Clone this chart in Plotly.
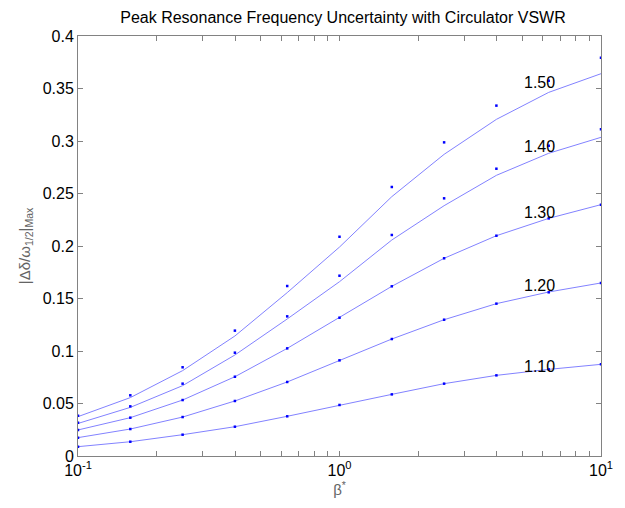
import math
import plotly.graph_objects as go

# ---- data ----
beta = [0.1, 0.1585, 0.2512, 0.3981, 0.631, 1.0, 1.585, 2.512, 3.981, 6.31, 10.0]
vswr_labels = ["1.10", "1.20", "1.30", "1.40", "1.50"]

line_110 = [0.0089, 0.0136, 0.0203, 0.0279, 0.0378, 0.0486, 0.0587, 0.0689, 0.0768, 0.0825, 0.0873]
line_120 = [0.0175, 0.0257, 0.0371, 0.0524, 0.0705, 0.0911, 0.1114, 0.1298, 0.1451, 0.1562, 0.1648]
line_130 = [0.0248, 0.0365, 0.0533, 0.0755, 0.1025, 0.1317, 0.1616, 0.1883, 0.2098, 0.2263, 0.2394]
line_140 = [0.0310, 0.0463, 0.0670, 0.0962, 0.1305, 0.1660, 0.2057, 0.2384, 0.2673, 0.2883, 0.3035]
line_150 = [0.0375, 0.0556, 0.0813, 0.1143, 0.1556, 0.1990, 0.2470, 0.2873, 0.3206, 0.3463, 0.3641]

dots_110 = [0.0089, 0.0136, 0.0203, 0.0279, 0.0378, 0.0486, 0.0587, 0.0689, 0.0768, 0.0825, 0.0873]
dots_120 = [0.0175, 0.0257, 0.0371, 0.0524, 0.0705, 0.0911, 0.1114, 0.1298, 0.1451, 0.1559, 0.1648]
dots_130 = [0.0248, 0.0365, 0.0533, 0.0755, 0.1025, 0.1317, 0.1616, 0.1883, 0.2098, 0.2263, 0.2394]
dots_140 = [0.0317, 0.0473, 0.0689, 0.0984, 0.1330, 0.1717, 0.2105, 0.2454, 0.2736, 0.2955, 0.3111]
dots_150 = [0.0384, 0.0578, 0.0845, 0.1194, 0.1619, 0.2088, 0.2562, 0.2987, 0.3337, 0.3574, 0.3793]

label_x = 5.8
label_y = [0.085, 0.162, 0.2317, 0.2952, 0.3555]

x_major = [0.1, 1, 10]
x_major_text = ["10<sup>-1</sup>", "10<sup>0</sup>", "10<sup>1</sup>"]
x_minor = [0.2, 0.3, 0.4, 0.5, 0.6, 0.7, 0.8, 0.9, 2, 3, 4, 5, 6, 7, 8, 9]
y_ticks = [0, 0.05, 0.1, 0.15, 0.2, 0.25, 0.3, 0.35, 0.4]
y_tick_text = ["0", "0.05", "0.1", "0.15", "0.2", "0.25", "0.3", "0.35", "0.4"]

# ---- figure ----
lines = [line_110, line_120, line_130, line_140, line_150]
dots = [dots_110, dots_120, dots_130, dots_140, dots_150]

fig = go.Figure()
for ln in lines:
    fig.add_trace(go.Scatter(x=beta, y=ln, mode="lines",
                             line=dict(color="rgb(130,130,255)", width=1),
                             showlegend=False, hoverinfo="skip"))
for dt in dots:
    fig.add_trace(go.Scatter(x=beta, y=dt, mode="markers",
                             marker=dict(color="rgb(0,0,255)", size=2.5, symbol="square"),
                             showlegend=False))

for txt, yv in zip(vswr_labels, label_y):
    fig.add_annotation(x=math.log10(label_x), y=yv, text=txt,
                       showarrow=False, xanchor="center", yanchor="middle",
                       font=dict(family="Liberation Sans, Arial", size=16, color="black"))

axis_color = "rgb(130,130,130)"
# page has an 8px body margin: figure origin sits at (8, 8) of the window
fig.update_layout(
    width=617, height=500,
    margin=dict(l=70, r=15, t=28, b=52),
    paper_bgcolor="white", plot_bgcolor="white",
    font=dict(family="Liberation Sans, Arial", size=16, color="black"),
    title=dict(text="Peak Resonance Frequency Uncertainty with Circulator VSWR",
               x=335 / 617, xanchor="center", y=1 - 9 / 500, yanchor="middle",
               yref="container", font=dict(size=16, color="black")),
    xaxis=dict(type="log", range=[-1, 1], tickvals=x_major, ticktext=x_major_text,
               ticks="inside", ticklen=5, tickcolor=axis_color,
               minor=dict(tickvals=x_minor, ticks="inside", ticklen=5,
                          tickcolor=axis_color, showgrid=False),
               showline=True, linecolor=axis_color, linewidth=1, mirror="allticks",
               showgrid=False, zeroline=False,
               tickfont=dict(size=16, color="black"),
               title=dict(text="β<sup>*</sup>", font=dict(size=15, color="rgb(100,100,100)"),
                          standoff=6)),
    yaxis=dict(range=[0, 0.4], tickvals=y_ticks, ticktext=y_tick_text,
               ticks="inside", ticklen=5, tickcolor=axis_color,
               showline=True, linecolor=axis_color, linewidth=1, mirror="allticks",
               showgrid=False, zeroline=False,
               tickfont=dict(size=16, color="black"),
               title=dict(text="|Δδ/ω<sub>1/2</sub>|<sub>Max</sub>",
                          font=dict(size=15, color="rgb(100,100,100)"), standoff=8)),
)

fig.write_html("out.html")
